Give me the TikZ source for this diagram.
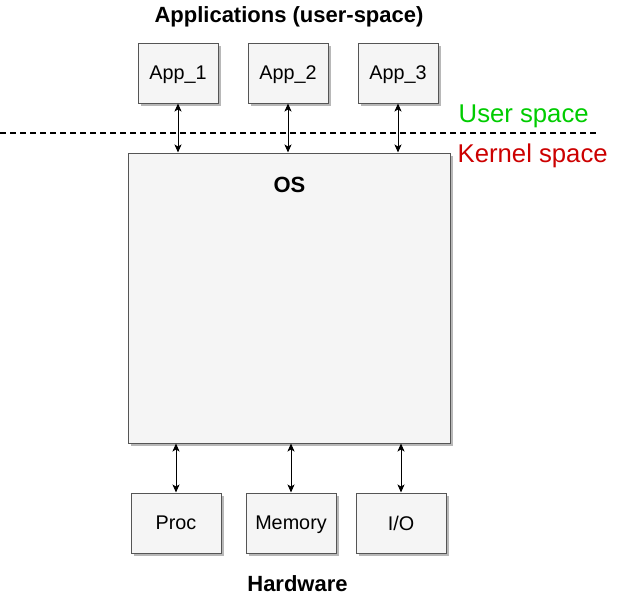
\documentclass[tikz,border=0pt]{standalone}
\usepackage{fontspec}
\setmainfont{Liberation Sans}
\usetikzlibrary{shadows,arrows.meta}
\definecolor{boxfill}{HTML}{F5F5F5}
\definecolor{boxline}{HTML}{555555}
\definecolor{usergreen}{HTML}{00CC00}
\definecolor{kernred}{HTML}{CC0000}
\tikzset{
  box/.style={draw=boxline, fill=boxfill, line width=1pt, minimum width=80pt, minimum height=60pt, inner sep=0pt,
    drop shadow={shadow xshift=3pt, shadow yshift=-3pt, fill=black!28, opacity=1},
    font=\fontsize{19.8}{23}\selectfont, text depth=0pt},
  hwbox/.style={box, minimum width=90pt},
  title/.style={font=\fontsize{22}{25}\selectfont\bfseries, inner sep=0pt, text depth=0pt},
  link/.style={line width=1pt, {Stealth[length=8pt,width=7pt,inset=2pt]}-{Stealth[length=8pt,width=7pt,inset=2pt]}},
  sidelabel/.style={font=\fontsize{25.7}{28}\selectfont, anchor=west, inner sep=0pt, text depth=0pt}
}
\begin{document}
\begin{tikzpicture}[x=1pt,y=-1pt]
\useasboundingbox (0,0) rectangle (619,597);
\node[title] (apptitle) at (289,15) {Applications (user-space)};
\node[box] (app1) at (178,73) {App\_1};
\node[box] (app2) at (288,73) {App\_2};
\node[box] (app3) at (398,73) {App\_3};
\node[box, minimum width=322pt, minimum height=290pt] (os) at (289,298) {};
\node[title] (oslabel) at (289.5,185) {OS};
\coordinate (dl) at (0,133);
\coordinate (dr) at (597,133);
\draw[line width=1.5pt, dash pattern=on 6pt off 4pt] (dl) -- (dr);
\node[sidelabel, text=usergreen] (user) at (458.5,113.5) {User space};
\node[sidelabel, text=kernred] (kern) at (457.5,153) {Kernel space};
\node[hwbox] (proc) at (176,523) {Proc};
\node[hwbox] (mem) at (291,523) {Memory};
\node[hwbox] (io) at (401,523) {I/O};
\node[title] (hwtitle) at (297.5,584) {Hardware};
\draw[link] (app1.south) -- (app1.south |- os.north);
\draw[link] (app2.south) -- (app2.south |- os.north);
\draw[link] (app3.south) -- (app3.south |- os.north);
\draw[link] (proc.north) -- (proc.north |- os.south);
\draw[link] (mem.north) -- (mem.north |- os.south);
\draw[link] (io.north) -- (io.north |- os.south);
\end{tikzpicture}
\end{document}
